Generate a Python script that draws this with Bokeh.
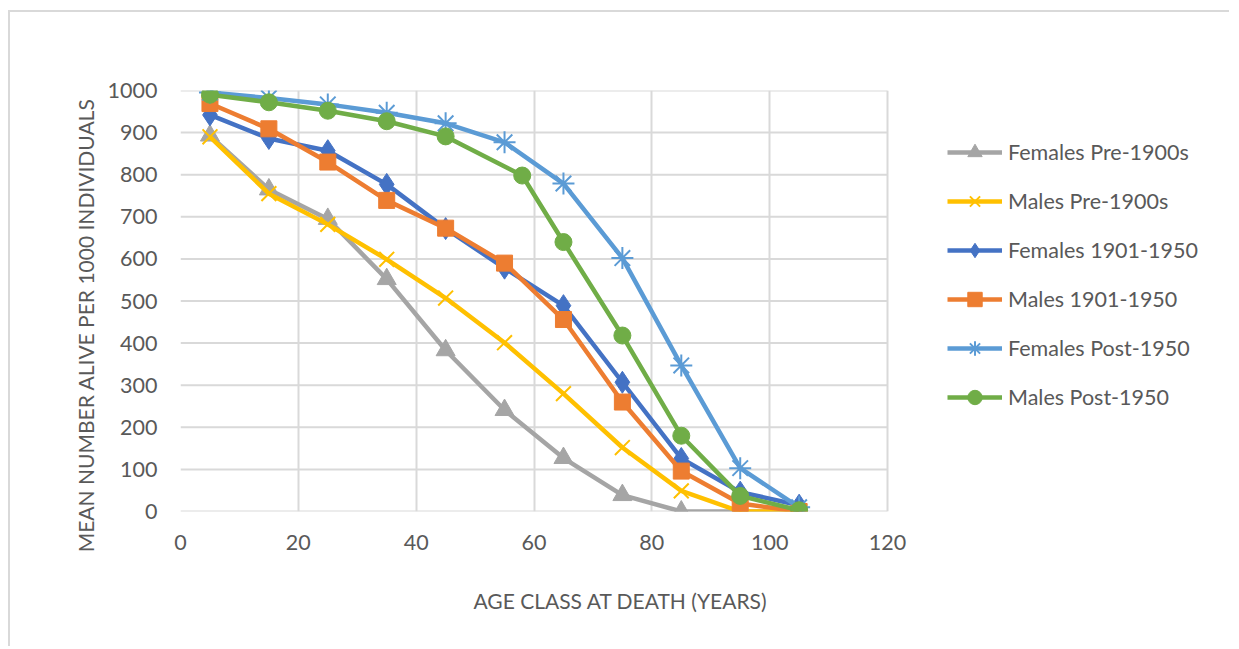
from bokeh.plotting import figure
from bokeh.models import FixedTicker, Legend, LegendItem, Title, Range1d
from bokeh.embed import file_html
from bokeh.resources import INLINE

# ---- data ----
ages = [5, 15, 25, 35, 45, 55, 65, 75, 85, 95, 105]
ages_males_post = [5, 15, 25, 35, 45, 58, 65, 75, 85, 95, 105]
females_pre_1900 = [893, 765, 695, 552, 383, 241, 127, 39, 0, 0, 0]
males_pre_1900 = [890, 755, 682, 599, 507, 401, 280, 152, 49, 0, 0]
females_1901_1950 = [942, 886, 857, 777, 672, 578, 489, 307, 126, 46, 15]
males_1901_1950 = [969, 909, 830, 739, 673, 590, 456, 260, 96, 19, 0]
females_post_1950 = [995, 982, 967, 947, 922, 877, 779, 602, 347, 103, 10]
males_post_1950 = [990, 972, 952, 927, 891, 798, 640, 418, 180, 37, 3]

series_names = ["Females Pre-1900s", "Males Pre-1900s", "Females 1901-1950",
                "Males 1901-1950", "Females Post-1950", "Males Post-1950"]
x_ticks = [0, 20, 40, 60, 80, 100, 120]
y_ticks = [0, 100, 200, 300, 400, 500, 600, 700, 800, 900, 1000]
x_title = "AGE CLASS AT DEATH (YEARS)"
y_title = "MEAN NUMBER ALIVE PER 1000 INDIVIDUALS"

FONT = "Lato"
TXT = "#595959"
GRID = "#d9d9d9"

W, H = 1221, 636
LEFT, RIGHT = 170, 10
AXIS_W = 707  # pixel width of the 0..120 axis span
x_max = x_ticks[-1] * (W - LEFT - RIGHT) / AXIS_W  # frame extends under the legend

p = figure(width=W, height=H, output_backend="svg", toolbar_location=None,
           x_range=Range1d(0, x_max), y_range=Range1d(0, y_ticks[-1]),
           min_border_left=LEFT, min_border_top=78,
           min_border_right=RIGHT, min_border_bottom=H - 499,
           styles={"border-top": "2px solid #d9d9d9",
                   "border-left": "2px solid #d9d9d9",
                   "margin-top": "10px", "margin-left": "8px"})
p.outline_line_color = None
p.background_fill_color = "white"
p.border_fill_color = "white"

for ax, ticks in ((p.xaxis, x_ticks), (p.yaxis, y_ticks)):
    ax.ticker = FixedTicker(ticks=ticks)
    ax.major_tick_line_color = None
    ax.minor_tick_line_color = None
    ax.major_label_text_font = FONT
    ax.major_label_text_font_size = "21.5px"
    ax.major_label_text_color = TXT
    ax.axis_line_color = None
p.xaxis.major_label_standoff = 17
p.yaxis.major_label_standoff = 17

p.xgrid.ticker = FixedTicker(ticks=x_ticks)
p.xgrid.grid_line_color = GRID
p.xgrid.grid_line_width = 2
p.ygrid.grid_line_color = None
# horizontal gridlines limited to the 0..120 axis span
p.segment(x0=[x_ticks[0]] * len(y_ticks), x1=[x_ticks[-1]] * len(y_ticks),
          y0=y_ticks, y1=y_ticks, line_color=GRID, line_width=2)

specs = [
    (ages, females_pre_1900, "#A5A5A5", "triangle", 19),
    (ages, males_pre_1900, "#FFC000", "x", 21),
    (ages, females_1901_1950, "#4472C4", "diamond", 22),
    (ages, males_1901_1950, "#ED7D31", "square", 16),
    (ages, females_post_1950, "#5B9BD5", "asterisk", 22),
    (ages_males_post, males_post_1950, "#70AD47", "circle", 17),
]
items = []
for name, (xs, ys, col, mk, sz) in zip(series_names, specs):
    r1 = p.line(xs, ys, line_color=col, line_width=4.5, line_join="round")
    if mk in ("x", "asterisk"):
        r2 = p.scatter(xs, ys, marker=mk, size=sz, line_color=col, line_width=2)
    else:
        r2 = p.scatter(xs, ys, marker=mk, size=sz, fill_color=col, line_color=col)
    items.append(LegendItem(label=name, renderers=[r1, r2]))

legend = Legend(items=items, location=(767, 96), orientation="vertical",
                glyph_width=55, glyph_height=36, label_height=30, spacing=13,
                label_standoff=6, padding=0, margin=0,
                border_line_color=None, background_fill_alpha=0,
                label_text_font=FONT, label_text_font_size="21.5px",
                label_text_color=TXT)
p.add_layout(legend, "center")

p.add_layout(Title(text=x_title, align="left", offset=293, standoff=67,
                   text_font=FONT, text_font_size="21px", text_color=TXT,
                   text_font_style="normal"), "below")
p.add_layout(Title(text=y_title, align="right", offset=8, standoff=14,
                   text_font=FONT, text_font_size="21px", text_color=TXT,
                   text_font_style="normal"), "left")

open("out.html", "w").write(file_html(p, INLINE))
